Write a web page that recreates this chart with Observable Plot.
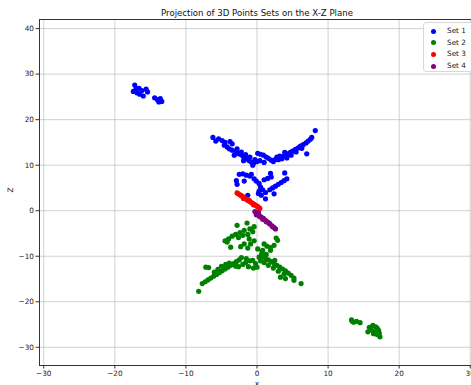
<!DOCTYPE html>
<html>
<head>
<meta charset="utf-8">
<script src="https://cdn.jsdelivr.net/npm/d3@7"></script>
<script src="https://cdn.jsdelivr.net/npm/@observablehq/plot@0.6"></script>
<style>
  body { margin: 0; background: white; }
  #wrap { position: relative; width: 471px; height: 385px; overflow: hidden; font-family: "DejaVu Sans", sans-serif; }
  #legend { position: absolute; left: 423px; top: 22px; width: 60px; height: 50px; border: 1px solid #d8d8d8; border-radius: 3px; background: rgba(255,255,255,0.85); box-sizing: border-box; }
  .row { position: absolute; left: 0; height: 10px; font-size: 7.3px; color: #222; }
  .sw { position: absolute; left: 7px; top: 2.5px; width: 5px; height: 5px; border-radius: 50%; }
  .lb { position: absolute; left: 23px; top: 0; line-height: 10px; white-space: nowrap; }
</style>
</head>
<body>
<div id="wrap"><div id="legend"></div></div>
<script>
const title = "Projection of 3D Points Sets on the X-Z Plane";
const xLabel = "x";
const yLabel = "Z";
const seriesNames = ["Set 1", "Set 2", "Set 3", "Set 4"];
const seriesColors = ["blue", "green", "red", "purple"];
const xTicks = [-30, -20, -10, 0, 10, 20, 30];
const yTicks = [-30, -20, -10, 0, 10, 20, 30, 40];

// Set 1 (x, z)
const set1 = [
  [-17.2,27.6],[-17.0,26.8],[-17.4,26.2],[-16.6,26.9],[-16.2,26.4],[-16.5,25.6],[-16.0,25.2],[-15.6,26.7],[-15.4,26.1],[-16.9,25.9],
  [-14.4,24.8],[-14.0,24.4],[-13.6,24.6],[-13.4,24.0],[-13.8,23.9],
  [-6.2,16.1],[-5.4,15.8],[-4.9,15.4],[-4.5,15.0],[-3.8,15.2],[-3.5,14.7],[-4.6,14.4],[-4.2,14.0],[-3.9,13.6],[-3.5,13.3],
  [-3.0,13.0],[-2.7,12.6],[-2.4,12.4],[-2.0,12.0],[-1.7,11.6],[-1.4,11.3],[-1.1,11.0],[-0.8,10.7],[-0.5,10.4],[-2.8,13.6],
  [-2.2,12.9],[-1.6,12.3],[-1.0,11.8],[-0.6,10.0],[-3.2,12.2],[-1.9,11.0],[-0.3,11.2],[-5.8,15.3],
  [0.1,12.6],[0.5,12.4],[0.9,12.2],[1.3,11.8],[1.6,11.5],[2.0,11.1],[2.3,10.8],[2.6,11.3],[0.4,11.0],[1.0,10.6],[0.0,10.8],
  [2.8,11.8],[3.2,12.0],[3.6,11.9],[4.0,12.2],[4.3,12.5],[4.7,12.8],[5.0,13.1],[5.4,13.5],[5.8,13.8],[6.1,14.2],[6.5,14.5],
  [6.9,14.9],[7.2,15.3],[7.5,15.7],[7.7,16.1],[8.2,17.6],[3.0,11.2],[3.5,11.4],[4.2,11.6],[4.8,12.2],[5.5,12.9],[6.3,13.7],
  [7.0,12.5],[3.9,12.8],
  [-2.5,8.0],[-2.0,8.1],[-1.5,7.8],[-1.0,7.6],[-0.8,8.0],[-2.9,6.6],[-2.8,5.8],[-0.1,6.5],[0.3,6.0],[0.5,5.2],[0.8,4.6],
  [0.3,4.3],[1.2,4.0],[1.8,4.6],[2.2,5.0],[2.6,5.4],[3.0,5.8],[3.4,6.2],[3.8,6.6],[4.2,7.0],[1.0,6.8],[1.5,7.1],[2.0,7.4],
  [3.9,8.3],[1.9,8.2],[2.4,3.7],[1.2,2.6],[0.6,3.4],[-0.4,7.0],[-1.8,6.5],[-1.3,3.4],[0.2,3.8]
];
// Set 2 (x, z)
const set2 = [
  [-2.8,-3.2],[-1.4,-2.7],[-0.4,-3.5],[-1.0,-4.0],[-1.8,-4.3],[-2.4,-4.8],[-3.0,-5.2],[-3.5,-5.6],[-4.0,-6.2],[-4.5,-6.6],
  [-4.2,-6.9],[-3.7,-8.0],[-0.6,-4.6],[-1.3,-5.2],[-2.0,-5.4],[-2.6,-5.9],[-1.8,-7.3],[-0.9,-7.3],[-2.3,-7.9],[-1.3,-8.2],
  [-0.4,-6.6],[1.0,-7.3],[1.4,-7.8],[1.9,-8.1],[2.4,-7.6],[2.9,-6.5],[2.7,-6.0],[0.8,-8.7],[1.9,-8.7],[0.7,-9.1],[0.1,-8.4],[-1.1,-6.2],
  [-8.2,-17.7],[-7.7,-16.0],[-7.3,-15.6],[-6.9,-15.2],[-6.5,-14.8],[-6.1,-14.4],[-5.7,-14.0],[-5.3,-13.6],[-4.9,-13.2],
  [-4.5,-12.8],[-4.1,-12.4],[-3.7,-12.0],[-3.3,-11.6],[-2.9,-11.2],[-2.5,-10.8],[-2.2,-10.3],[-7.2,-12.4],[-6.8,-12.5],
  [-5.0,-12.2],[-4.4,-11.8],[-3.9,-11.5],[-6.0,-13.5],[-5.5,-12.9],[-3.0,-12.2],[-2.0,-11.8],[-1.6,-11.4],[-1.0,-11.0],
  [-0.6,-10.9],[-0.2,-11.6],[0.0,-12.4],[-1.2,-12.3],[-0.5,-12.6],[-2.6,-12.3],[-1.5,-10.5],
  [0.3,-10.2],[0.6,-9.8],[0.9,-10.1],[1.2,-10.5],[1.6,-10.8],[2.0,-11.2],[2.4,-11.6],[2.8,-12.0],[3.2,-12.4],[3.6,-12.8],
  [4.0,-13.2],[4.4,-13.7],[4.8,-14.2],[5.2,-14.8],[5.2,-15.3],[6.2,-16.0],[3.3,-14.6],[4.0,-14.9],[1.0,-11.4],[1.6,-12.0],
  [2.3,-12.6],[3.0,-13.3],[3.8,-13.9],[0.5,-11.0],[2.5,-10.9],[1.3,-9.6],
  [13.3,-24.0],[13.6,-24.5],[14.0,-24.3],[14.5,-24.6],[13.4,-24.3],[15.8,-25.6],[16.3,-25.2],[16.7,-25.5],[16.1,-26.2],
  [16.6,-26.6],[17.1,-26.3],[16.9,-27.2],[17.3,-27.7],[16.4,-27.0],[15.6,-26.6],[17.2,-26.9],[16.9,-25.8]
];
// Set 3 (x, z)
const set3 = [
  [-2.8,3.9],[-2.6,3.7],[-2.4,3.5],[-2.2,3.3],[-2.0,3.1],[-1.8,2.9],[-1.6,2.6],[-1.4,2.4],[-1.2,2.2],[-1.0,2.0],[-0.8,1.8],
  [-0.6,1.6],[-0.4,1.4],[-0.2,1.2],[0.0,1.0],[0.2,0.7],[0.4,0.5],[-1.9,2.7],[-1.1,2.3],[-0.5,1.3],[0.1,0.9]
];
// Set 4 (x, z)
const set4 = [
  [-0.3,-0.2],[0.0,-0.6],[0.3,-1.0],[0.6,-1.4],[0.9,-1.7],[1.2,-2.1],[1.5,-2.5],[1.8,-2.9],[2.1,-3.3],[2.4,-3.7],[2.6,-4.0],
  [-0.1,-0.9],[0.4,-1.3],[0.8,-1.9],[1.3,-2.4],[1.7,-2.7],[2.2,-3.5],[0.2,-0.4]
];

const sets = [set1, set2, set3, set4];
const points = sets.flatMap((s, i) => s.map(([x, z]) => ({x, z, set: seriesNames[i]})));

const chart = Plot.plot({
  width: 471,
  height: 385,
  marginTop: 19,
  marginLeft: 39,
  marginBottom: 20,
  marginRight: -3,
  style: {fontFamily: "DejaVu Sans, sans-serif", fontSize: "7.3px", color: "#222", background: "white", overflow: "visible"},
  x: {domain: [-30.6, 30.6]},
  y: {domain: [-34, 42]},
  color: {domain: seriesNames, range: seriesColors},
  marks: [
    Plot.gridX(xTicks, {stroke: "#b0b0b0", strokeOpacity: 0.65, strokeWidth: 0.9}),
    Plot.gridY(yTicks, {stroke: "#b0b0b0", strokeOpacity: 0.65, strokeWidth: 0.9}),
    Plot.dot(points, {x: "x", y: "z", fill: "set", r: 2.6}),
    Plot.frame({stroke: "#333", strokeWidth: 1}),
    Plot.axisX(xTicks, {tickSize: 3.5, tickPadding: 2, label: null, stroke: "#333"}),
    Plot.axisY(yTicks, {tickSize: 3.5, tickPadding: 2, label: null, stroke: "#333"}),
    Plot.text([title], {frameAnchor: "top", dy: -9.5, text: d => d, fontSize: 8.6, fill: "#111"}),
    Plot.text([xLabel], {frameAnchor: "bottom", dy: 20, text: d => d, fontSize: 7.5, fill: "#222"}),
    Plot.text([yLabel], {frameAnchor: "left", dx: -29, rotate: -90, text: d => d, fontSize: 7.5, fill: "#222"})
  ]
});
document.getElementById("wrap").prepend(chart);

const legend = document.getElementById("legend");
seriesNames.forEach((name, i) => {
  const row = document.createElement("div");
  row.className = "row";
  row.style.top = (3 + i * 11.7) + "px";
  const sw = document.createElement("div");
  sw.className = "sw";
  sw.style.background = seriesColors[i];
  const lb = document.createElement("div");
  lb.className = "lb";
  lb.textContent = name;
  row.appendChild(sw);
  row.appendChild(lb);
  legend.appendChild(row);
});
</script>
</body>
</html>
